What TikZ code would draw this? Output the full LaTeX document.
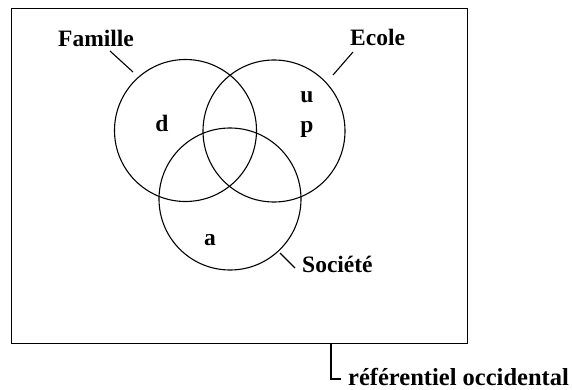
\documentclass[tikz,border=0pt]{standalone}
\usepackage{fontspec}
\setmainfont{Liberation Serif}
\begin{document}
\begin{tikzpicture}[x=1pt,y=-1pt,
  venn/.style={draw, circle, minimum size=142pt, inner sep=0pt, line width=1.1pt},
  lbl/.style={font=\fontsize{23.5}{27}\selectfont\bfseries, inner sep=0pt, anchor=base west},
  let/.style={font=\fontsize{23.5}{27}\selectfont\bfseries, inner sep=0pt, anchor=base},
  lead/.style={line width=1.1pt}]
\useasboundingbox (0,0) rectangle (572,390);
\node[draw, line width=1.3pt, minimum width=456pt, minimum height=335pt, inner sep=0pt, anchor=north west] (frame) at (10.5,8) {};
\node[venn] (fam) at (185.5,130.5) {};
\node[venn] (eco) at (274,131) {};
\node[venn] (soc) at (230,199) {};
\node[lbl] (tfam) at (58,47) {Famille};
\node[lbl] (teco) at (350,46) {Ecole};
\node[lbl] (tsoc) at (302,272) {Société};
\node[let] (d) at (162,132) {d};
\node[let] (u) at (307,103) {u};
\node[let] (p) at (307,133) {p};
\node[let] (a) at (210,245) {a};
\node[lbl, font=\fontsize{24.5}{28}\selectfont\bfseries] (ref) at (348,385) {référentiel occidental};
\coordinate (f1) at (110,51);
\coordinate (f2) at (133,72);
\coordinate (e1) at (353,52);
\coordinate (e2) at (333,75);
\coordinate (s1) at (280,253);
\coordinate (s2) at (295,268);
\draw[lead] (f1) -- (f2);
\draw[lead] (e1) -- (e2);
\draw[lead] (s1) -- (s2);
\coordinate (b0) at (331,343);
\coordinate (b1) at (341,379);
\draw[lead] (b0) |- (b1);
\end{tikzpicture}
\end{document}
